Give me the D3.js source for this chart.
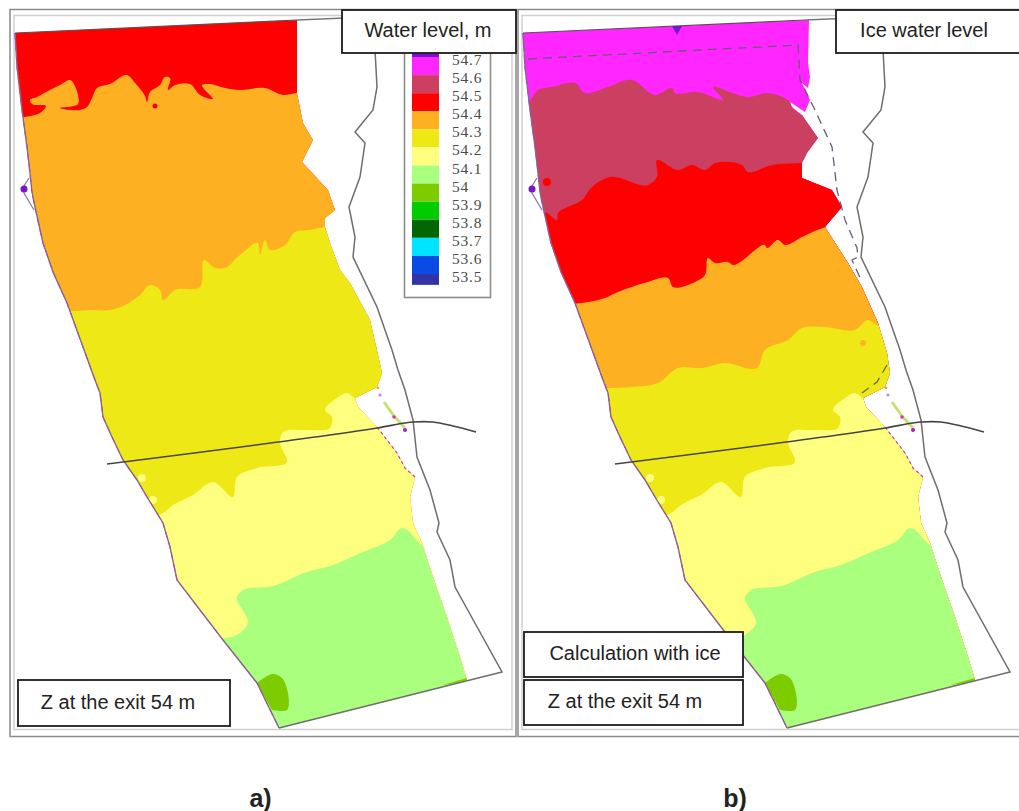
<!DOCTYPE html>
<meta charset="utf-8">
<head>
<script src="https://d3js.org/d3.v7.min.js"></script>
<style>
  body { margin: 0; background: #fff; }
  text { font-family: "Liberation Sans", Arial, sans-serif; fill: #222; }
  .legendText { font-family: "Liberation Serif", serif; font-size: 15.5px; letter-spacing: 0.8px; fill: #4a4a4a; }
</style>
</head>
<body>
<svg width="1019" height="811"></svg>
<script>
// legend
var levels = [54.7, 54.6, 54.5, 54.4, 54.3, 54.2, 54.1, 54, 53.9, 53.8, 53.7, 53.6, 53.5]
var colors = ["#7a12c8", "#ff26ff", "#cb4060", "#ff0000", "#fdb122", "#eee814", "#ffff7f",
              "#abff7f", "#7ccc00", "#00cc00", "#006600", "#00e5ff", "#0a4be6", "#3333a8"]

// river banks, map units
var leftBank = [[15,33],[17,67],[22,110],[27,147],[30,173],[32,193],[35,207],[43,243],[53,272],[67,303],[83,347],[95,380],[100,393],[103,417],[112,437],[123,460],[137,480],[147,497],[163,523],[170,547],[177,580],[200,610],[223,640],[257,683],[279,728]]
var lowerRight = [[467,680],[460,657],[447,617],[433,577],[422,543],[413,523],[410,497],[415,477],[405,468],[397,453],[377,427],[358,407],[355,398],[377,387],[382,373]]
var upperRightA = [[378,355],[370,320],[350,283],[340,270],[330,243],[325,227],[325,218],[335,210],[328,190],[302,162],[313,140],[303,123],[297,93],[297,20]]
var upperRightB = [[379,353],[370,323],[354,287],[340,263],[317,227],[334,207],[324,190],[294,178],[294,163],[299,153],[310,138],[294,115],[284,107],[282,102],[297,112],[302,100],[294,83],[300,88],[302,77],[300,63],[301,20]]
var outerBank = [[297,20],[345,18]]
var farBank = [[375,50],[377,87],[373,110],[355,132],[365,143],[360,177],[349,207],[355,237],[353,257],[377,307],[385,330],[392,350],[398,370],[405,390],[413,420],[417,457],[430,490],[439,523],[437,532],[450,560],[455,587],[502,672],[279,728]]
var crossLine = [[107,464],[377,428],[405,423],[413,422],[433,422],[453,426],[476,432]]

// level contours, each one bounds the next colour from above
var edgeRedOrange = [[0,118],[25,117],[40,113],[46,106],[32,104],[30,100],[37,97],[50,90],[60,85],[70,80],[78,104],[60,108],[80,110],[87,107],[92,98],[97,88],[110,84],[127,75],[135,83],[145,96],[147,102],[150,92],[160,85],[165,77],[170,78],[168,90],[175,85],[190,84],[200,95],[213,99],[202,85],[210,84],[225,88],[240,90],[265,88],[283,95],[297,93],[400,93]]
var edgeOrangeYellow = [[0,312],[75,311],[90,310],[110,310],[125,305],[140,295],[150,285],[160,290],[163,300],[175,290],[200,287],[204,260],[215,268],[225,268],[240,255],[258,243],[260,255],[265,240],[270,250],[285,245],[295,232],[310,230],[325,227],[400,225]]
var edgeYellowPale = [[0,516],[163,513],[173,505],[193,495],[213,482],[233,497],[237,477],[257,468],[287,462],[280,443],[283,432],[307,430],[330,428],[332,417],[325,410],[337,398],[347,393],[355,398],[400,400]]
var edgePaleGreen = [[0,640],[225,638],[237,635],[248,623],[237,597],[243,590],[273,586],[307,572],[333,565],[363,552],[390,540],[402,528],[422,545],[520,600]]
var edgeMagentaCrimson = [[0,103],[22,100],[30,90],[44,87],[67,83],[77,93],[97,88],[124,80],[147,95],[164,88],[167,93],[190,92],[215,100],[205,87],[240,97],[260,93],[282,102],[284,107],[294,115],[400,120]]
var edgeCrimsonRed = [[0,205],[39,213],[49,220],[50,213],[74,200],[84,187],[102,177],[140,185],[149,177],[149,160],[170,170],[184,165],[197,170],[207,163],[234,165],[240,172],[264,165],[294,163],[400,163]]
var edgeRedOrangeIce = [[0,305],[74,303],[97,298],[110,292],[140,282],[160,278],[165,287],[187,282],[197,275],[200,258],[207,263],[220,262],[225,265],[257,245],[259,248],[270,240],[277,245],[294,237],[315,228],[400,215]]
var edgeOrangeYellowIce = [[0,392],[104,388],[124,387],[150,383],[170,368],[194,368],[217,363],[249,368],[257,350],[280,340],[294,328],[317,327],[347,330],[360,320],[369,325],[400,330]]

var darkPatch = [[257,683],[273,674],[282,678],[287,710],[272,710]]
var exitStrip = [[442,685],[467,678],[468,682]]
var bumpShape = [[29,178],[24,186],[24,193],[34,210]]
var iceLineTop = [[20,59],[290,45],[292,80],[307,110],[324,147],[329,190],[337,220],[349,248],[350,257],[344,260],[354,282]]
var iceLineLow = [[379,365],[369,382],[354,393]]
var islandSpecks = [[380,395,1.6,"#e080e0"],[394,417,1.8,"#d040a0"],[405,430,2,"#a020c0"],[378,388,1.3,"#f0a040"]]

var svg = d3.select("svg")

function drawPanel(offset, id, outline, baseColor, zones, blobs) {
    var x = d3.scaleLinear().domain([0, 510]).range([offset, offset + 510]),
        y = d3.scaleLinear().domain([0, 811]).range([0, 811])
    var line = d3.line().x(function(d) { return x(d[0]) }).y(function(d) { return y(d[1]) })
    var contour = d3.line().x(function(d) { return x(d[0]) }).y(function(d) { return y(d[1]) })
        .curve(d3.curveCatmullRom.alpha(0.7))

    svg.append("clipPath").attr("id", id).append("path").attr("d", line(outline) + "Z")

    var g = svg.append("g").attr("class", "panel").attr("filter", "url(#soft)")
    var zoneG = g.append("g").attr("clip-path", "url(#" + id + ")")

    zoneG.append("rect").attr("x", x(-20)).attr("y", 0).attr("width", 560).attr("height", 811).attr("fill", baseColor)
    zones.forEach(function(z) {
        zoneG.append("path")
            .attr("d", contour(z.edge.concat([[600, 1000], [-100, 1000]])) + "Z")
            .attr("fill", z.color)
    })
    zoneG.selectAll(".blob").data(blobs).enter().append("circle").attr("class", "blob")
        .attr("cx", function(d) { return x(d[0]) })
        .attr("cy", function(d) { return y(d[1]) })
        .attr("r", function(d) { return d[2] })
        .attr("fill", function(d) { return d[3] })
    zoneG.append("path").attr("d", contour(darkPatch) + "Z").attr("fill", "#7ccc00")
    zoneG.append("path").attr("d", line(exitStrip) + "Z").attr("fill", "#7ccc00")

    // banks
    g.append("path").attr("d", line(leftBank)).attr("fill", "none").attr("stroke", "#777").attr("stroke-width", 1.4)
    g.append("path").attr("d", line(leftBank)).attr("fill", "none").attr("stroke", "#b040c8").attr("stroke-width", 1).attr("stroke-dasharray", "7 4")
    g.append("path").attr("d", line(lowerRight.slice(7, 11))).attr("fill", "none").attr("stroke", "#c040b0").attr("stroke-width", 1.2).attr("stroke-dasharray", "3 3")
    g.append("path").attr("d", line(bumpShape)).attr("fill", "#fff").attr("stroke", "#8a7a98").attr("stroke-width", 1.2)
    g.append("circle").attr("cx", x(24)).attr("cy", y(189)).attr("r", 3.5).attr("fill", "#7a12c8")
    g.append("path").attr("d", line(outerBank)).attr("fill", "none").attr("stroke", "#777").attr("stroke-width", 1.4)
    g.append("path").attr("d", line([[15, 33], [297, 20]])).attr("fill", "none").attr("stroke", "#555").attr("stroke-width", 1.2)
    g.append("path").attr("d", line(farBank)).attr("fill", "none").attr("stroke", "#6e6e6e").attr("stroke-width", 1.5)
    g.append("path").attr("d", line([[384, 402], [394, 416], [405, 428]])).attr("fill", "none").attr("stroke", "#c4e070").attr("stroke-width", 2.8)
    g.selectAll(".speck").data(islandSpecks).enter().append("circle").attr("class", "speck")
        .attr("cx", function(d) { return x(d[0]) })
        .attr("cy", function(d) { return y(d[1]) })
        .attr("r", function(d) { return d[2] })
        .attr("fill", function(d) { return d[3] })
    g.append("path").attr("d", contour(crossLine)).attr("fill", "none").attr("stroke", "#444").attr("stroke-width", 1.6)

    return { g: g, line: line, x: x, y: y }
}

// defs
svg.append("filter").attr("id", "soft").append("feGaussianBlur").attr("stdDeviation", 0.45)

// frames
function frame(x0, x1) {
    svg.append("rect").attr("x", x0).attr("y", 9.5).attr("width", x1 - x0).attr("height", 727)
        .attr("fill", "#fff").attr("stroke", "#8a8a8a").attr("stroke-width", 1.5)
    svg.append("rect").attr("x", x0 + 4).attr("y", 15.5).attr("width", x1 - x0 - 8).attr("height", 714)
        .attr("fill", "#fff").attr("stroke", "#cfcfcf").attr("stroke-width", 1.5)
}
frame(10, 516)
frame(518, 1040)
svg.append("rect").attr("x", 836).attr("y", 53).attr("width", 183).attr("height", 3).attr("fill", "#fff")

var a = drawPanel(0, "clipA", leftBank.concat(lowerRight, upperRightA), colors[3], [
    { edge: edgeRedOrange, color: colors[4] },
    { edge: edgeOrangeYellow, color: colors[5] },
    { edge: edgeYellowPale, color: colors[6] },
    { edge: edgePaleGreen, color: colors[7] }
], [[38, 90, 2.5, colors[3]], [155, 106, 2.5, colors[3]], [142, 478, 4, colors[6]], [153, 500, 4, colors[6]]])

var b = drawPanel(508, "clipB", leftBank.concat(lowerRight, upperRightB), colors[1], [
    { edge: edgeMagentaCrimson, color: colors[2] },
    { edge: edgeCrimsonRed, color: colors[3] },
    { edge: edgeRedOrangeIce, color: colors[4] },
    { edge: edgeOrangeYellowIce, color: colors[5] },
    { edge: edgeYellowPale, color: colors[6] },
    { edge: edgePaleGreen, color: colors[7] }
], [[39, 182, 4, colors[3]], [355, 343, 3, colors[4]], [142, 478, 4, colors[6]], [153, 500, 4, colors[6]]])

b.g.append("path").attr("d", b.line([[164, 26], [174, 26], [169, 35]]) + "Z").attr("fill", "#7a12c8")
b.g.append("path").attr("d", b.line(iceLineTop)).attr("fill", "none").attr("stroke", "#6a5a7a").attr("stroke-width", 1.3).attr("stroke-dasharray", "9 6")
b.g.append("path").attr("d", b.line(iceLineLow)).attr("fill", "none").attr("stroke", "#666").attr("stroke-width", 1.3).attr("stroke-dasharray", "9 6")

// legend
var legendY = d3.scaleLinear().domain([54.7, 53.5]).range([57, 274])
svg.append("rect").attr("x", 404.5).attr("y", 50).attr("width", 86).attr("height", 247.5)
    .attr("fill", "#fff").attr("stroke", "#8c8c8c").attr("stroke-width", 1.6)
var swatchTops = [54.8].concat(levels)
var swatchBottoms = levels.concat([53.44])
svg.selectAll(".swatch").data(colors).enter().append("rect").attr("class", "swatch")
    .attr("x", 412).attr("width", 27)
    .attr("y", function(d, i) { return legendY(swatchTops[i]) })
    .attr("height", function(d, i) { return legendY(swatchBottoms[i]) - legendY(swatchTops[i]) })
    .attr("fill", function(d) { return d })
svg.selectAll(".legendText").data(levels).enter().append("text").attr("class", "legendText")
    .attr("x", 452)
    .attr("y", function(d) { return legendY(d) + 8 })
    .text(function(d) { return d })

// text boxes
var boxes = [
    { x: 342, y: 10, w: 174, h: 43, tx: 428, ty: 37, t: "Water level, m" },
    { x: 836, y: 10, w: 190, h: 43, tx: 924, ty: 37, t: "Ice water level" },
    { x: 18, y: 680, w: 212, h: 46, tx: 118, ty: 709, t: "Z at the exit 54 m" },
    { x: 524, y: 632, w: 219, h: 45, tx: 635, ty: 660, t: "Calculation with ice" },
    { x: 524, y: 680, w: 219, h: 45, tx: 625, ty: 708, t: "Z at the exit 54 m" }
]
svg.selectAll(".box").data(boxes).enter().append("rect").attr("class", "box")
    .attr("x", function(d) { return d.x }).attr("y", function(d) { return d.y })
    .attr("width", function(d) { return d.w }).attr("height", function(d) { return d.h })
    .attr("fill", "#fff").attr("stroke", "#1c1c1c").attr("stroke-width", 1.8)
svg.selectAll(".boxText").data(boxes).enter().append("text").attr("class", "boxText")
    .attr("x", function(d) { return d.tx }).attr("y", function(d) { return d.ty })
    .attr("text-anchor", "middle").attr("font-size", "20px")
    .text(function(d) { return d.t })

svg.append("text").attr("x", 260.5).attr("y", 807).attr("text-anchor", "middle")
    .attr("font-size", "25px").attr("font-weight", "bold").text("a)")
svg.append("text").attr("x", 735).attr("y", 807).attr("text-anchor", "middle")
    .attr("font-size", "25px").attr("font-weight", "bold").text("b)")
</script>
</body>
